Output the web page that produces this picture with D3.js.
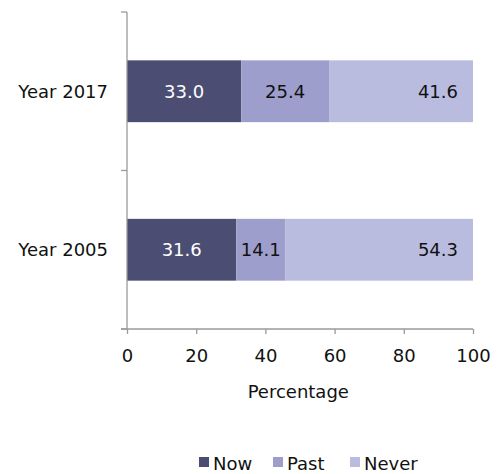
<!DOCTYPE html>
<html>
<head>
<meta charset="utf-8">
<script src="https://cdn.jsdelivr.net/npm/d3@7"></script>
<style>
  html, body { margin: 0; padding: 0; background: #fff; }
  svg { display: block; font-family: "DejaVu Sans", sans-serif; }
</style>
</head>
<body>
<svg id="chart" width="501" height="474"></svg>
<script>
// Smoking status by survey year (percent)
const years = ["Year 2017", "Year 2005"];
const seriesNames = ["Now", "Past", "Never"];
const nowValues = [33.0, 31.6];
const pastValues = [25.4, 14.1];
const neverValues = [41.6, 54.3];
const xTicks = [0, 20, 40, 60, 80, 100];
const colors = ["#4b4e72", "#9d9ecc", "#babcdf"];

const rows = years.map((y, i) => ({
  year: y, Now: nowValues[i], Past: pastValues[i], Never: neverValues[i]
}));
const stacked = d3.stack().keys(seriesNames)(rows);

const svg = d3.select("#chart");
const margin = { left: 127, top: 12 };
const plotW = 346, plotH = 317;
const fontSize = 18;

const x = d3.scaleLinear().domain([0, 100]).range([0, plotW]);
const y = d3.scaleBand().domain(years).range([0, plotH]).paddingInner(0.61).paddingOuter(0.305);

const g = svg.append("g").attr("transform", `translate(${margin.left},${margin.top})`);

// bars
const layers = g.selectAll("g.layer").data(stacked).join("g")
  .attr("class", "layer").attr("fill", (d, i) => colors[i]);
layers.selectAll("rect").data(d => d).join("rect")
  .attr("x", d => x(d[0]))
  .attr("y", d => y(d.data.year))
  .attr("width", d => x(d[1]) - x(d[0]))
  .attr("height", y.bandwidth());

// value labels: centred for Now/Past, inside end for Never
stacked.forEach((layer, li) => {
  g.selectAll(null).data(layer).join("text")
    .attr("x", d => li === 2 ? x(d[1]) - 15 : (x(d[0]) + x(d[1])) / 2)
    .attr("y", d => y(d.data.year) + y.bandwidth() / 2)
    .attr("dy", "0.36em")
    .attr("text-anchor", li === 2 ? "end" : "middle")
    .attr("font-size", fontSize)
    .attr("fill", li === 0 ? "#ffffff" : "#111111")
    .text(d => (d[1] - d[0]).toFixed(1));
});

// y axis: line with ticks at category boundaries
const axisColor = "#9a9a9a";
g.append("line").attr("x1", 0).attr("x2", 0).attr("y1", 0).attr("y2", plotH)
  .attr("stroke", axisColor).attr("stroke-width", 1.3);
[0, plotH / 2, plotH].forEach(v => {
  g.append("line").attr("x1", -6).attr("x2", 0).attr("y1", v).attr("y2", v)
    .attr("stroke", axisColor).attr("stroke-width", 1.3);
});
years.forEach(yr => {
  g.append("text")
    .attr("x", -19)
    .attr("y", y(yr) + y.bandwidth() / 2)
    .attr("dy", "0.36em")
    .attr("text-anchor", "end")
    .attr("font-size", fontSize)
    .attr("fill", "#111")
    .text(yr);
});

// x axis
const xAxis = g.append("g").attr("transform", `translate(0,${plotH})`)
  .call(d3.axisBottom(x).tickValues(xTicks).tickSize(5).tickSizeOuter(0).tickPadding(15));
xAxis.select(".domain").attr("stroke", axisColor).attr("stroke-width", 1.3)
  .attr("d", `M-6,0H${plotW}`);
xAxis.selectAll(".tick line").attr("stroke", axisColor).attr("stroke-width", 1.3);
xAxis.selectAll(".tick text").attr("font-size", fontSize).attr("fill", "#111")
  .attr("font-family", "DejaVu Sans, sans-serif");

g.append("text")
  .attr("x", x(49.5)).attr("y", 386)
  .attr("text-anchor", "middle")
  .attr("font-size", fontSize).attr("fill", "#111")
  .text("Percentage");

// legend
const legendItems = [
  { name: "Now", x: 199 },
  { name: "Past", x: 273 },
  { name: "Never", x: 350 }
];
const lg = svg.append("g");
legendItems.forEach(it => {
  lg.append("rect").attr("x", it.x).attr("y", 457).attr("width", 10).attr("height", 10)
    .attr("fill", colors[seriesNames.indexOf(it.name)]);
  lg.append("text").attr("x", it.x + 14).attr("y", 470)
    .attr("font-size", fontSize).attr("fill", "#111").text(it.name);
});
</script>
</body>
</html>
